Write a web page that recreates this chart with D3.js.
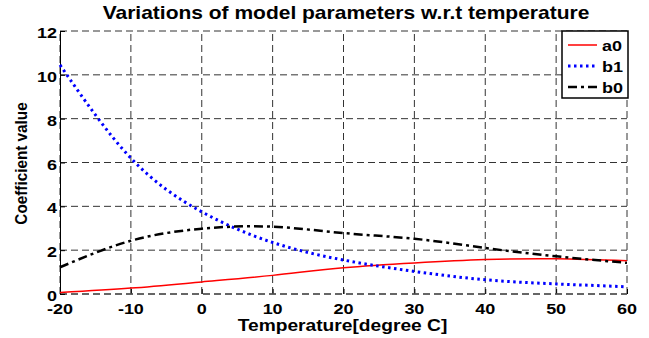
<!DOCTYPE html>
<html>
<head>
<meta charset="utf-8">
<script src="https://cdn.jsdelivr.net/npm/d3@7"></script>
<style>
  body { margin: 0; background: #fff; }
  text { font-family: "Liberation Sans", Arial, sans-serif; font-weight: bold; fill: #000; }
</style>
</head>
<body>
<div id="chart"></div>
<script>
// values
const temps = [-20, -10, 0, 10, 20, 30, 40, 50, 60]
const a0 = [0.07, 0.27, 0.55, 0.85, 1.2, 1.42, 1.57, 1.61, 1.52]
const b1 = [10.45, 6.2, 3.75, 2.35, 1.55, 1.03, 0.65, 0.46, 0.33]
const b0 = [1.22, 2.43, 2.98, 3.07, 2.78, 2.52, 2.1, 1.72, 1.42]
const xTicks = [-20, -10, 0, 10, 20, 30, 40, 50, 60]
const yTicks = [0, 2, 4, 6, 8, 10, 12]
const seriesNames = ["a0", "b1", "b0"]

const width = 649, height = 338
const margin = { top: 31, right: 22, bottom: 44, left: 60 }
const stretch = 1.2 // the reference font is wide, stretch it a bit

const svg = d3.select("#chart").append("svg")
    .attr("width", width)
    .attr("height", height)

const x = d3.scaleLinear().domain([-20, 60]).range([margin.left, width - margin.right])
const y = d3.scaleLinear().domain([0, 12]).range([height - margin.bottom, margin.top])

// stretched text helper
function label(g, tx, ty, str, size, anchor) {
    return g.append("text")
        .attr("transform", `translate(${tx},${ty}) scale(${stretch},1)`)
        .attr("text-anchor", anchor || "start")
        .style("font-size", size + "px")
        .text(str)
}

// grid
const grid = svg.append("g")
grid.selectAll(".vg").data(xTicks).join("line")
    .attr("x1", d => x(d)).attr("x2", d => x(d))
    .attr("y1", y(0)).attr("y2", y(12))
    .attr("stroke", "#333").attr("stroke-width", 1)
    .attr("stroke-dasharray", "7,4")
grid.selectAll(".hg").data(yTicks).join("line")
    .attr("x1", x(-20)).attr("x2", x(60))
    .attr("y1", d => y(d)).attr("y2", d => y(d))
    .attr("stroke", "#333").attr("stroke-width", 1)
    .attr("stroke-dasharray", "7,4")

// axes (left + bottom only, ticks inside)
svg.append("g")
    .attr("transform", `translate(0,${y(0)})`)
    .call(d3.axisTop(x).tickValues(xTicks).tickSize(5).tickFormat(""))
    .call(g => g.select(".domain").remove())
svg.append("line")
    .attr("x1", x(-20)).attr("x2", x(60)).attr("y1", y(0)).attr("y2", y(0))
    .attr("stroke", "#555").attr("stroke-width", 1.5).attr("stroke-dasharray", "7,4")
svg.append("g")
    .attr("transform", `translate(${x(-20)},0)`)
    .call(d3.axisRight(y).tickValues(yTicks).tickSize(5).tickFormat(""))

xTicks.forEach(d => label(svg, x(d), y(0) + 20, d, 15, "middle"))
yTicks.forEach(d => label(svg, x(-20) - 3, y(d) + 7, d, 15, "end"))

// titles
label(svg, 346, 19, "Variations of model parameters w.r.t temperature", 17.5, "middle")
label(svg, (x(-20) + x(60)) / 2 - 1, 330.5, "Temperature[degree C]", 16, "middle")
svg.append("text")
    .attr("transform", `translate(27,${(y(0) + y(12)) / 2 + 1}) rotate(-90) scale(0.9,1)`)
    .attr("text-anchor", "middle")
    .style("font-size", "17px")
    .text("Coefficient value")

// lines
const styles = [
    { color: "#ff0000", width: 1.5, dash: null },
    { color: "#0000ff", width: 3, dash: "2.5,3.5" },
    { color: "#000000", width: 2.5, dash: "9,4,3,4" }
]
const allSeries = [a0, b1, b0]
const line = d3.line()
    .x((d, i) => x(temps[i]))
    .y(d => y(d))
    .curve(d3.curveNatural)

svg.selectAll(".series").data(allSeries).join("path")
    .attr("d", line)
    .attr("fill", "none")
    .attr("stroke", (d, i) => styles[i].color)
    .attr("stroke-width", (d, i) => styles[i].width)
    .attr("stroke-dasharray", (d, i) => styles[i].dash)

// legend
const lg = svg.append("g").attr("transform", `translate(562,31)`)
lg.append("rect")
    .attr("width", 66).attr("height", 67)
    .attr("fill", "#fff").attr("stroke", "#000").attr("stroke-width", 1.5)
seriesNames.forEach((name, i) => {
    const cy = 14 + i * 21
    lg.append("line")
        .attr("x1", 6).attr("x2", 35).attr("y1", cy).attr("y2", cy)
        .attr("stroke", styles[i].color)
        .attr("stroke-width", styles[i].width)
        .attr("stroke-dasharray", styles[i].dash)
    label(lg, 40, cy + 6, name, 15)
})
</script>
</body>
</html>
